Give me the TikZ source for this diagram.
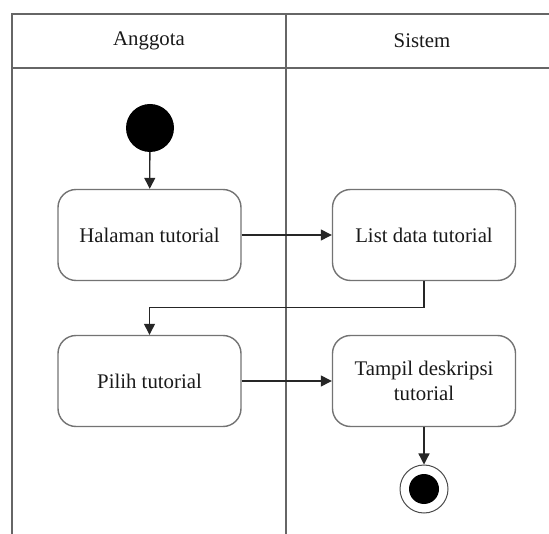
\documentclass[tikz,border=0pt]{standalone}
\usepackage{fontspec}
\setmainfont{Liberation Serif}
\usetikzlibrary{arrows.meta}
\begin{document}
\begin{tikzpicture}[x=1pt,y=-1pt,
  lane/.style={draw=black!60, line width=2.2pt},
  action/.style={draw=black!55, line width=1.4pt, rounded corners=18pt,
    minimum width=183pt, minimum height=91pt, align=center, inner sep=2pt,
    text=black!90, font=\fontsize{20.8}{25}\selectfont},
  flow/.style={draw=black!85, line width=1.3pt, -{Triangle[length=11pt,width=11pt]}},
  lanelabel/.style={text=black!90, font=\fontsize{20.8}{24}\selectfont}
]
\useasboundingbox (0,0) rectangle (549,534);
% swimlane frame (the right lane runs past the edge)
\begin{scope}
  \clip (0,0) rectangle (549,534);
  \draw[lane] (12,540) -- (12,14) -- (600,14);
  \draw[lane] (12,68) -- (600,68);
  \draw[lane] (286,14) -- (286,540);
\end{scope}
\node[lanelabel] (hA) at (149,41) {Anggota};
\node[lanelabel] (hS) at (422,41) {Sistem};

% activity nodes
\node[circle, fill=black, minimum size=48pt, inner sep=0pt] (start) at (150,128) {};
\node[action] (hal) at (149.5,235) {Halaman tutorial};
\node[action] (list) at (424,235) {List data tutorial};
\node[action] (pilih) at (149.5,381) {Pilih tutorial};
\node[action] (tampil) at (424,381) {Tampil deskripsi\\tutorial};
\node[circle, draw=black!70, line width=1pt, minimum size=48pt, inner sep=0pt] (end) at (424,489) {};
\node[circle, fill=black, minimum size=30pt, inner sep=0pt] (endin) at (end.center) {};

% control flow
\draw[flow] (start) -- (hal);
\draw[flow] (hal) -- (list);
\draw[flow] (list.south) -- ++(0,26) -| (pilih.north);
\draw[flow] (pilih) -- (tampil);
\draw[flow] (tampil) -- (end);
\end{tikzpicture}
\end{document}
